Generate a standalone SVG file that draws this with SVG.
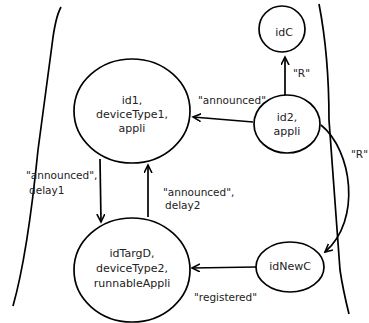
<svg xmlns="http://www.w3.org/2000/svg" width="369" height="323" viewBox="0 0 369 323">
<defs>
<marker id="arr" markerWidth="10" markerHeight="10" refX="8" refY="4" orient="auto" markerUnits="userSpaceOnUse">
<path d="M0,0 L8,4 L0,8" fill="none" stroke="#000" stroke-width="1.6"/>
</marker>
</defs>
<style>
.node{fill:#fff;stroke:#000;stroke-width:1.7}
.t{font-family:"DejaVu Sans",sans-serif;font-size:11px;fill:#222;text-anchor:middle}
.lbl{font-family:"DejaVu Sans",sans-serif;font-size:10.5px;fill:#222}
.edge{fill:none;stroke:#000;stroke-width:1.7;marker-end:url(#arr)}
.bound{fill:none;stroke:#000;stroke-width:1.7}
</style>
<rect width="369" height="323" fill="#fff"/>
<g id="boundaries">
<path class="bound" d="M61,7 C56,16 54,28 52,45 L38,150 C33,200 26,260 13,306"/>
<path class="bound" d="M319,4 C326,40 329,80 329,120 L340,270 C343,290 346,302 349,314"/>
</g>
<g id="connectors">
<path class="edge" d="M253,122 L193,117"/>
<path class="edge" d="M285,96 L285,57"/>
<path class="edge" d="M321,125 C352,150 362,220 325,252"/>
<path class="edge" d="M256,267 L192,268"/>
<path class="edge" d="M100,159 L101,222"/>
<path class="edge" d="M148,217 L148,165"/>
<text class="lbl" x="198" y="104">"announced"</text>
<text class="lbl" x="293" y="77">"R"</text>
<text class="lbl" x="351" y="158">"R"</text>
<text class="lbl" x="194" y="301">"registered"</text>
<text class="lbl" x="26" y="179">"announced",</text>
<text class="lbl" x="29" y="194">delay1</text>
<text class="lbl" x="163" y="196">"announced",</text>
<text class="lbl" x="165" y="209">delay2</text>
</g>
<g id="id1">
<ellipse class="node" cx="132" cy="111" rx="58" ry="52"/>
<text class="t" x="132" y="104">id1,</text>
<text class="t" x="132" y="118">deviceType1,</text>
<text class="t" x="132" y="132">appli</text>
</g>
<g id="idC">
<ellipse class="node" cx="282" cy="29" rx="23" ry="23"/>
<text class="t" x="284" y="36">idC</text>
</g>
<g id="id2">
<ellipse class="node" cx="287" cy="124" rx="33" ry="29"/>
<text class="t" x="287" y="121">id2,</text>
<text class="t" x="287" y="135">appli</text>
</g>
<g id="idNewC">
<ellipse class="node" cx="290" cy="267" rx="34" ry="25"/>
<text class="t" x="290" y="270">idNewC</text>
</g>
<g id="idTargD">
<ellipse class="node" cx="132" cy="270" rx="58" ry="52"/>
<text class="t" x="132" y="257">idTargD,</text>
<text class="t" x="132" y="272">deviceType2,</text>
<text class="t" x="132" y="287">runnableAppli</text>
</g>
</svg>
